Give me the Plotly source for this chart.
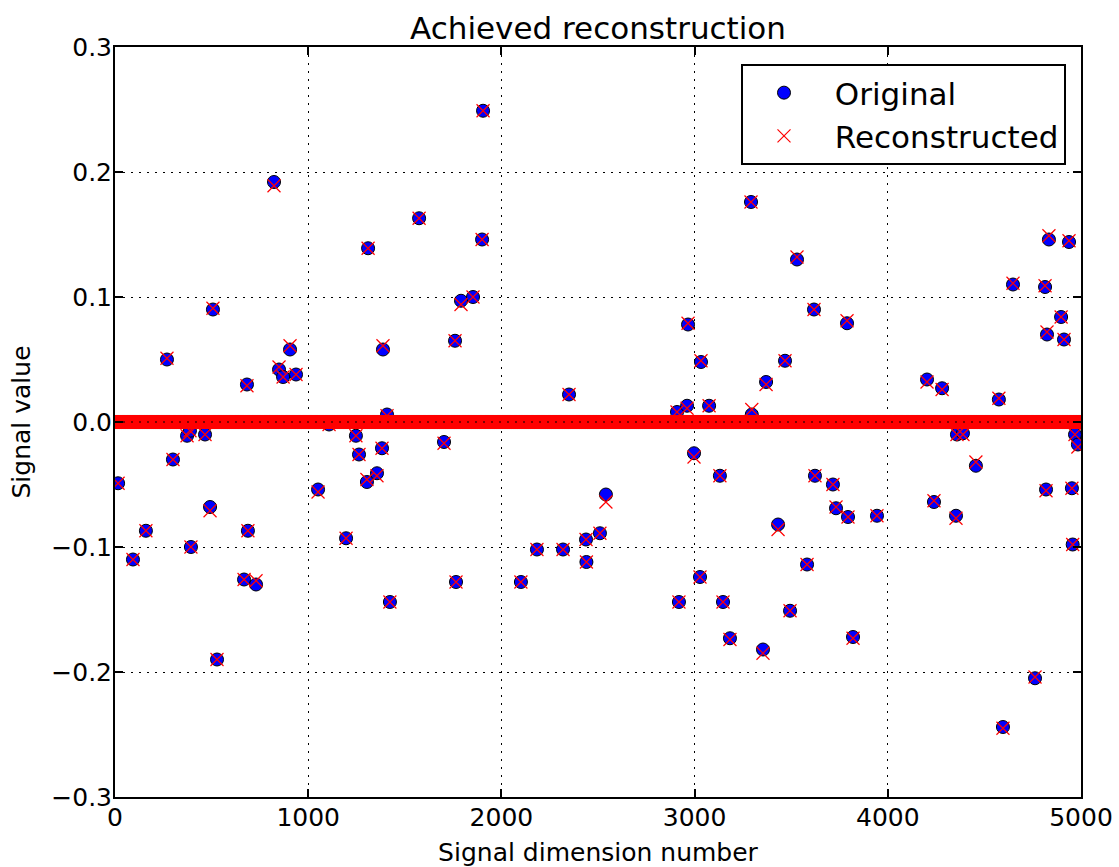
import numpy as np
import plotly.graph_objects as go

N = 5000
spike_idx = [16, 93, 160, 269, 300, 373, 388, 393, 466, 492, 507, 528, 668, 683, 688, 730,
             823, 849, 870, 906, 937, 1051, 1108, 1196, 1247, 1263, 1304, 1310, 1356, 1382,
             1387, 1408, 1423, 1574, 1703, 1760, 1765, 1791, 1853, 1900, 1905, 2101, 2184,
             2319, 2350, 2438, 2440, 2510, 2541, 2909, 2919, 2961, 2966, 2997, 3028, 3033,
             3075, 3131, 3147, 3183, 3292, 3296, 3354, 3370, 3432, 3468, 3494, 3530, 3582,
             3618, 3623, 3716, 3732, 3789, 3794, 3820, 3944, 4203, 4239, 4281, 4353, 4358,
             4389, 4456, 4575, 4596, 4648, 4762, 4814, 4819, 4824, 4834, 4897, 4912, 4938,
             4953, 4957, 4969, 4984]
orig_vals = [-0.049, -0.110, -0.087, 0.050, -0.030, -0.011, -0.007, -0.100, -0.010, -0.068,
             0.090, -0.190, -0.126, 0.030, -0.087, -0.130, 0.192, 0.042, 0.036, 0.058, 0.038,
             -0.054, -0.002, -0.093, -0.011, -0.026, -0.048, 0.139, -0.041, -0.021, 0.058,
             0.006, -0.144, 0.163, -0.016, 0.065, -0.128, 0.097, 0.100, 0.146, 0.249, -0.128,
             -0.102, -0.102, 0.022, -0.094, -0.112, -0.089, -0.058, 0.008, -0.144, 0.013,
             0.078, -0.025, -0.124, 0.048, 0.013, -0.043, -0.144, -0.173, 0.176, 0.006,
             -0.182, 0.032, -0.082, 0.049, -0.151, 0.130, -0.114, 0.090, -0.043, -0.050,
             -0.069, 0.079, -0.076, -0.172, -0.075, 0.034, -0.064, 0.027, -0.075, -0.010,
             -0.009, -0.035, 0.018, -0.244, 0.110, -0.205, 0.108, -0.054, 0.070, 0.146,
             0.084, 0.066, 0.144, -0.053, -0.098, -0.010, -0.018]
recon_vals = [-0.049, -0.110, -0.087, 0.051, -0.030, -0.011, -0.007, -0.100, -0.010, -0.071,
              0.091, -0.190, -0.126, 0.029, -0.087, -0.127, 0.189, 0.044, 0.036, 0.061, 0.038,
              -0.056, -0.002, -0.093, -0.011, -0.026, -0.046, 0.139, -0.043, -0.021, 0.061,
              0.005, -0.144, 0.163, -0.017, 0.065, -0.128, 0.094, 0.100, 0.146, 0.249, -0.128,
              -0.102, -0.102, 0.022, -0.094, -0.112, -0.089, -0.064, 0.008, -0.144, 0.011,
              0.079, -0.028, -0.124, 0.049, 0.013, -0.043, -0.144, -0.174, 0.176, 0.010,
              -0.185, 0.030, -0.086, 0.049, -0.151, 0.132, -0.114, 0.090, -0.043, -0.050,
              -0.068, 0.081, -0.076, -0.173, -0.075, 0.032, -0.063, 0.026, -0.077, -0.010,
              -0.010, -0.032, 0.019, -0.245, 0.111, -0.204, 0.109, -0.055, 0.072, 0.149,
              0.084, 0.066, 0.145, -0.053, -0.098, -0.010, -0.020]
x_ticks = [0, 1000, 2000, 3000, 4000, 5000]
y_ticks = [-0.3, -0.2, -0.1, 0.0, 0.1, 0.2, 0.3]

original = np.zeros(N)
original[spike_idx] = orig_vals
reconstructed = np.zeros(N)
reconstructed[spike_idx] = recon_vals
dims = np.arange(N)

FONT = "DejaVu Sans"

fig = go.Figure()
fig.add_trace(go.Scatter(
    x=dims, y=original, mode="markers", name="\u00a0Original",
    marker=dict(symbol="circle", size=13, color="#0000ff", line=dict(color="black", width=1)),
))
fig.add_trace(go.Scatter(
    x=dims, y=reconstructed, mode="markers", name="\u00a0Reconstructed",
    marker=dict(symbol="x-thin", size=13, color="#ff0000", line=dict(color="#ff0000", width=1.2)),
))

fig.add_shape(type="line", xref="paper", yref="y", x0=0, x1=1, y0=0, y1=0,
              line=dict(color="black", width=1, dash="2px,6px"), layer="above")

axis_common = dict(
    showline=True, linecolor="black", linewidth=2, mirror="ticks",
    ticks="inside", ticklen=8, tickwidth=1.5, tickcolor="black",
    showgrid=True, gridcolor="black", gridwidth=1, griddash="2px,6px",
    zeroline=False, automargin=False,
    tickfont=dict(family=FONT, size=25, color="black"),
)

fig.update_layout(
    width=1119, height=867,
    margin=dict(l=115, r=38, t=47, b=70, autoexpand=False),
    paper_bgcolor="white", plot_bgcolor="white",
    font=dict(family=FONT, color="black"),
    title=dict(text="Achieved reconstruction", x=0.5, xanchor="center", xref="paper",
               y=1 - 28 / 867, yanchor="middle", yref="container",
               font=dict(family=FONT, size=31, color="black")),
    xaxis=dict(range=[0, 5000], tickvals=x_ticks, ticktext=[str(v) for v in x_ticks],
               ticklabelstandoff=-3,
               title=dict(text="Signal dimension number", standoff=12,
                          font=dict(family=FONT, size=25, color="black")),
               **axis_common),
    yaxis=dict(range=[-0.3, 0.3], tickvals=y_ticks, tickformat=".1f",
               ticklabelstandoff=-4,
               title=dict(text="Signal value", standoff=14,
                          font=dict(family=FONT, size=25, color="black")),
               **axis_common),
    legend=dict(x=(1066 - 115) / 966, y=(797 - 64) / 750, xanchor="right", yanchor="top",
                bgcolor="white", bordercolor="black", borderwidth=2,
                font=dict(family=FONT, size=31, color="black"),
                itemwidth=72, tracegroupgap=0),
    showlegend=True,
)

fig.write_html("out.html", config={"displayModeBar": False},
               post_script="document.body.style.margin='0';document.body.style.overflow='hidden';")
